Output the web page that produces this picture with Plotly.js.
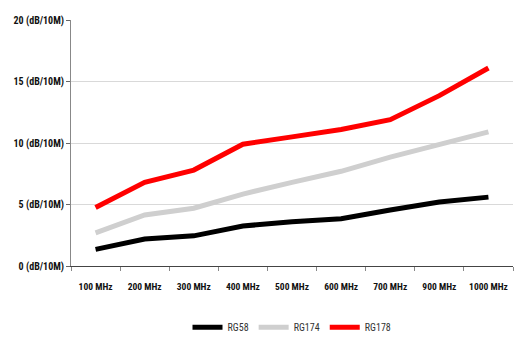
<!DOCTYPE html>
<html><head><meta charset="utf-8">
<script src="https://cdn.plot.ly/plotly-3.0.1.min.js"></script>
<style>html,body{margin:0;padding:0;background:#fff}#chart{width:529px;height:354px}</style>
</head><body><div id="chart"></div>
<script>
const categories = ['100 MHz','200 MHz','300 MHz','400 MHz','500 MHz','600 MHz','700 MHz','900 MHz','1000 MHz'];
const rg58  = [1.35, 2.2, 2.45, 3.25, 3.6, 3.85, 4.55, 5.2, 5.6];
const rg174 = [2.7, 4.15, 4.7, 5.85, 6.8, 7.7, 8.85, 9.9, 10.9];
const rg178 = [4.75, 6.8, 7.8, 9.9, 10.5, 11.1, 11.9, 13.85, 16.1];
const seriesNames = ['RG58','RG174','RG178'];
const seriesColors = ['#000000','#cfcfcf','#ff0000'];

const font = "'Liberation Sans Narrow', 'Roboto Condensed', 'Open Sans', sans-serif";
const data = [rg58, rg174, rg178].map((v,i)=>({
  x: categories, y: v, type:'scatter', mode:'lines', name: seriesNames[i],
  line:{color: seriesColors[i], width:5}
}));
const layout = {
  width:529, height:354,
  margin:{l:71, r:16, t:20, b:88},
  paper_bgcolor:'#fff', plot_bgcolor:'#fff',
  showlegend:true,
  legend:{orientation:'h', x:0.5, xanchor:'center', y:-0.19, yanchor:'top',
    font:{family:font, size:10, color:'#333'}, itemwidth:30, tracegroupgap:0},
  xaxis:{type:'category', range:[-0.5, 8.5], tickson:'boundaries', ticks:'outside', ticklen:4, tickcolor:'#888',
    ticklabelstandoff:12, tickangle:0,
    showline:true, linecolor:'#444', linewidth:1, showgrid:false,
    tickfont:{family:font, size:9.5, color:'#111', weight:'bold'}},
  yaxis:{range:[0,20], dtick:5, ticksuffix:' (dB/10M)', ticks:'outside', ticklen:4, tickcolor:'#666',
    showline:true, linecolor:'#888', linewidth:1, gridcolor:'#d9d9d9', zeroline:false,
    tickfont:{family:font, size:10, color:'#111', weight:'bold'}}
};
Plotly.newPlot('chart', data, layout, {displayModeBar:false, staticPlot:true});
</script></body></html>
